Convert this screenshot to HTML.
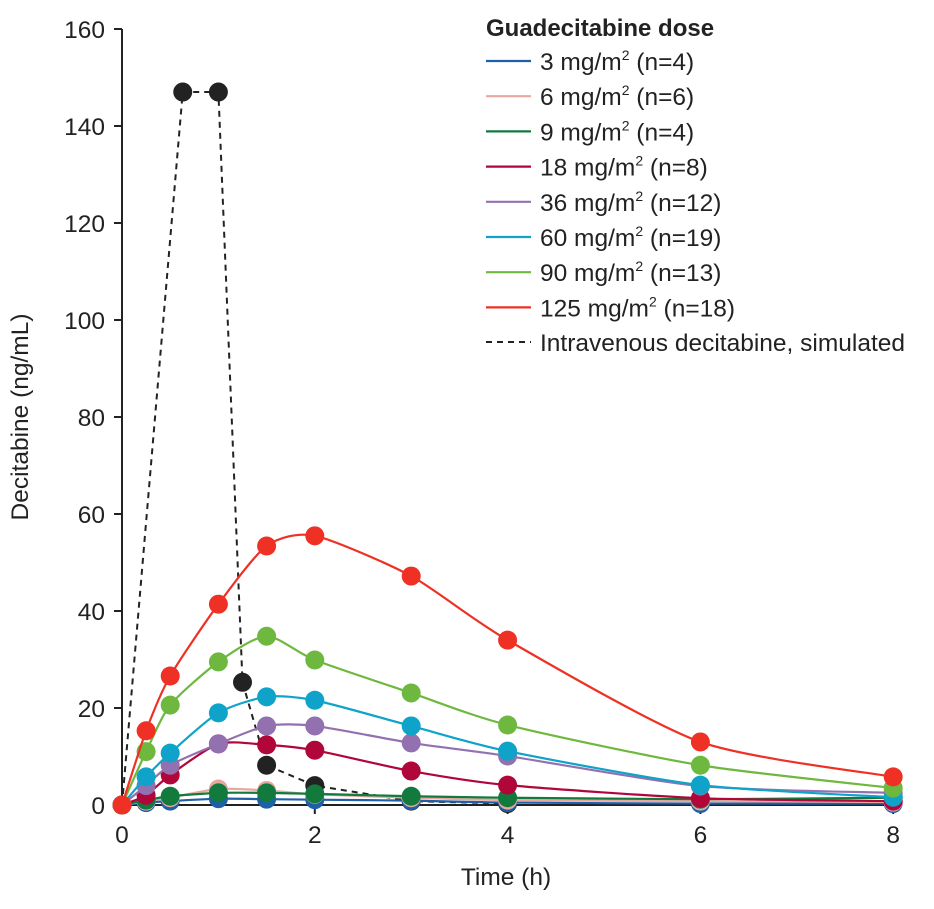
<!DOCTYPE html>
<html><head><meta charset="utf-8"><style>
body{margin:0;background:#fff}
svg text{font-family:"Liberation Sans",sans-serif;fill:#222}
</style></head><body>
<svg id="c" width="934" height="904" xmlns="http://www.w3.org/2000/svg"></svg>
<script>
const times=[0,0.25,0.5,1,1.5,2,3,4,6,8];
const s3=[0,0.5,0.8,1.3,1.2,1.1,0.9,0.5,0.3,0.3];
const s6=[0,0.8,1.5,3.3,3,2.2,1.5,1,0.8,0.6];
const s9=[0,1,1.8,2.5,2.5,2.3,1.8,1.5,1.2,1.5];
const s18=[0,2,6.2,12.6,12.4,11.3,7,4.1,1.4,0.8];
const s36=[0,4,8.2,12.6,16.3,16.3,12.8,10.1,3.9,2.5];
const s60=[0,5.8,10.7,19,22.3,21.6,16.3,11.1,4.1,1.6];
const s90=[0,11,20.6,29.5,34.8,29.9,23.1,16.5,8.2,3.5];
const s125=[0,15.3,26.6,41.4,53.4,55.5,47.2,34,13,5.8];
const ivTimes=[0,0.63,1,1.25,1.5,2,3,4];
const ivVals=[0,147,147,25.3,8.2,4,0.8,0.3];
const xTicks=[0,2,4,6,8];
const yTicks=[0,20,40,60,80,100,120,140,160];
const labels=["3 mg/m","6 mg/m","9 mg/m","18 mg/m","36 mg/m","60 mg/m","90 mg/m","125 mg/m"];
const ns=["(n=4)","(n=6)","(n=4)","(n=8)","(n=12)","(n=19)","(n=13)","(n=18)"];
const series=[s3,s6,s9,s18,s36,s60,s90,s125];
const colors=["#1f5fa8","#e8a8a0","#127a3c","#b0063a","#9370b0","#0fa3c9","#6fb83f","#ee3124"];
const X=t=>122+t*96.4, Y=v=>805-v*4.85;
const svg=document.getElementById('c');
const NS="http://www.w3.org/2000/svg";
function mk(tag,attrs,parent){const e=document.createElementNS(NS,tag);for(const k in attrs)e.setAttribute(k,attrs[k]);(parent||svg).appendChild(e);return e;}
function smooth(pts){let d=`M${pts[0][0]},${pts[0][1]}`;for(let i=0;i<pts.length-1;i++){const p0=pts[Math.max(0,i-1)],p1=pts[i],p2=pts[i+1],p3=pts[Math.min(pts.length-1,i+2)];const t=0.12;d+=` C${p1[0]+(p2[0]-p0[0])*t},${p1[1]+(p2[1]-p0[1])*t} ${p2[0]-(p3[0]-p1[0])*t},${p2[1]-(p3[1]-p1[1])*t} ${p2[0]},${p2[1]}`;}return d;}
const FS=24.5;
const ax=mk('g',{});


mk('line',{x1:122,y1:29,x2:122,y2:805,stroke:'#222','stroke-width':2},ax);
mk('line',{x1:122,y1:805,x2:893,y2:805,stroke:'#222','stroke-width':2},ax);
yTicks.forEach(v=>{mk('line',{x1:114,x2:122,y1:Y(v),y2:Y(v),stroke:'#222','stroke-width':2},ax);const t=mk('text',{x:105,y:Y(v)+9,'text-anchor':'end','font-size':FS},ax);t.textContent=v;});
xTicks.forEach(v=>{mk('line',{x1:X(v),x2:X(v),y1:805,y2:814,stroke:'#222','stroke-width':2},ax);const t=mk('text',{x:X(v),y:843,'text-anchor':'middle','font-size':FS},ax);t.textContent=v;});
const xt=mk('text',{x:506,y:885,'text-anchor':'middle','font-size':FS});xt.textContent='Time (h)';


const yt=mk('text',{x:0,y:0,'text-anchor':'middle','font-size':FS,transform:'translate(28,417) rotate(-90)'});yt.textContent='Decitabine (ng/mL)';


const ivp=ivTimes.map((t,i)=>[X(t),Y(ivVals[i])]);
const ivg=mk('g',{});


mk('polyline',{points:ivp.map(p=>p.join(',')).join(' '),fill:'none',stroke:'#222','stroke-width':2,'stroke-dasharray':'6,5'},ivg);
series.forEach((s,k)=>{const g=mk('g',{});
const pts=times.map((t,i)=>[X(t),Y(s[i])]);
mk('path',{d:smooth(pts),fill:'none',stroke:colors[k],'stroke-width':2.2},g);
pts.forEach(p=>{const c=mk('circle',{cx:p[0],cy:p[1],r:9.5,fill:colors[k]},g);});});
ivp.forEach((p,i)=>{if(i==0)return;const c=mk('circle',{cx:p[0],cy:p[1],r:9.5,fill:'#222'},ivg);});
const lg=mk('g',{});


const lt=mk('text',{x:486,y:36,'font-size':24,'font-weight':'bold'},lg);lt.textContent='Guadecitabine dose';
labels.forEach((l,i)=>{const y=61+i*35.2;const e=mk('g',{},lg);
mk('line',{x1:486,x2:531,y1:y,y2:y,stroke:colors[i],'stroke-width':2.2},e);
const t=mk('text',{x:540,y:y+9,'font-size':FS},e);t.innerHTML=l+'<tspan font-size="14" dy="-10">2</tspan><tspan dy="10"> '+ns[i]+'</tspan>';});
const ie=mk('g',{},lg);
mk('line',{x1:486,x2:531,y1:342,y2:342,stroke:'#222','stroke-width':2,'stroke-dasharray':'6,5'},ie);
const it=mk('text',{x:540,y:351,'font-size':FS},ie);it.textContent='Intravenous decitabine, simulated';
</script>
</body></html>
